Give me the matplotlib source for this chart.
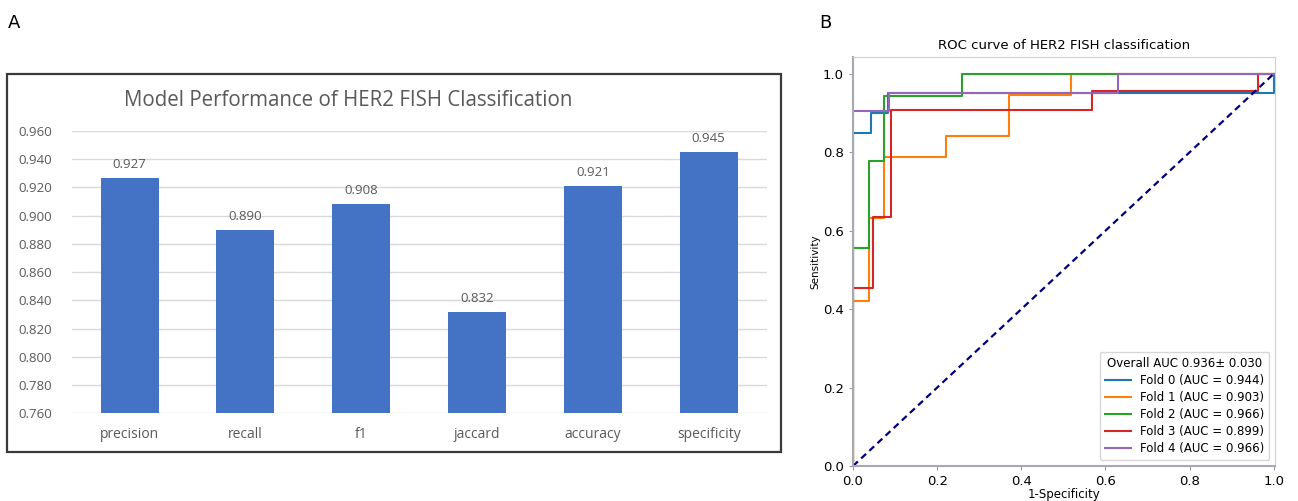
import matplotlib
matplotlib.use("Agg")
import matplotlib.pyplot as plt
from matplotlib.patches import Rectangle

# ---- Panel A data ----
metrics = ["precision", "recall", "f1", "jaccard", "accuracy", "specificity"]
scores = [0.927, 0.890, 0.908, 0.832, 0.921, 0.945]
ytick_vals = [0.760, 0.780, 0.800, 0.820, 0.840, 0.860, 0.880, 0.900, 0.920, 0.940, 0.960]

# ---- Panel B data (ROC curves per fold) ----
fold0_fpr = [0, 0, 0.042, 0.042, 0.083, 0.083, 1.0, 1.0]
fold0_tpr = [0, 0.85, 0.85, 0.90, 0.90, 0.95, 0.95, 1.0]
fold1_fpr = [0, 0, 0.037, 0.037, 0.074, 0.074, 0.222, 0.222, 0.370, 0.370, 0.519, 0.519, 1.0]
fold1_tpr = [0, 0.421, 0.421, 0.632, 0.632, 0.789, 0.789, 0.842, 0.842, 0.947, 0.947, 1.0, 1.0]
fold2_fpr = [0, 0, 0.037, 0.037, 0.074, 0.074, 0.259, 0.259, 1.0]
fold2_tpr = [0, 0.556, 0.556, 0.778, 0.778, 0.944, 0.944, 1.0, 1.0]
fold3_fpr = [0, 0, 0.047, 0.047, 0.090, 0.090, 0.569, 0.569, 0.962, 0.962, 1.0]
fold3_tpr = [0, 0.455, 0.455, 0.636, 0.636, 0.909, 0.909, 0.955, 0.955, 1.0, 1.0]
fold4_fpr = [0, 0, 0.086, 0.086, 0.630, 0.630, 1.0]
fold4_tpr = [0, 0.905, 0.905, 0.952, 0.952, 1.0, 1.0]
fold_aucs = [0.944, 0.903, 0.966, 0.899, 0.966]
overall_auc = "Overall AUC 0.936\u00b1 0.030"

fig = plt.figure(figsize=(12.98, 5.01), dpi=100)

# ---------- Panel A ----------
gray_txt = "#595959"
fig.patches.append(Rectangle((0.0054, 0.0978), 0.5963, 0.7545, transform=fig.transFigure,
                             fill=False, edgecolor="#3a3a3a", linewidth=1.6, zorder=0))
axA = fig.add_axes([0.0552, 0.175, 0.5354, 0.5635])
x = list(range(len(metrics)))
axA.bar(x, scores, width=0.5, color="#4472C4", zorder=3)
axA.set_ylim(0.76, 0.96)
axA.set_xlim(-0.5, len(metrics) - 0.5)
axA.set_yticks(ytick_vals)
axA.set_yticklabels([f"{v:.3f}" for v in ytick_vals], fontfamily="Open Sans", fontsize=9.5, color=gray_txt)
axA.set_xticks(x)
axA.set_xticklabels(metrics, fontfamily="Open Sans", fontsize=10, color=gray_txt)
axA.tick_params(axis="both", length=0)
axA.tick_params(axis="y", pad=14)
axA.tick_params(axis="x", pad=10)
axA.grid(axis="y", color="#d9d9d9", linewidth=1, zorder=0)
for s in axA.spines.values():
    s.set_visible(False)
for xi, v in zip(x, scores):
    axA.annotate(f"{v:.3f}", (xi, v), xytext=(0, 5), textcoords="offset points",
                 ha="center", va="bottom", fontfamily="Open Sans", fontsize=9.5, color=gray_txt)
fig.text(0.268, 0.80, "Model Performance of HER2 FISH Classification", ha="center", va="center",
         fontfamily="Open Sans", fontsize=14.8, color=gray_txt)

fig.text(0.006, 0.955, "A", fontsize=13, ha="left", va="center")
fig.text(0.631, 0.955, "B", fontsize=13, ha="left", va="center")

# ---------- Panel B ----------
axB = fig.add_axes([0.6572, 0.0699, 0.3251, 0.8164])
fprs = [fold0_fpr, fold1_fpr, fold2_fpr, fold3_fpr, fold4_fpr]
tprs = [fold0_tpr, fold1_tpr, fold2_tpr, fold3_tpr, fold4_tpr]
colors = ["#1f77b4", "#ff7f0e", "#2ca02c", "#d62728", "#9467bd"]
for i, (f, t, a, c) in enumerate(zip(fprs, tprs, fold_aucs, colors)):
    axB.plot(f, t, color=c, lw=1.5, label=f"Fold {i} (AUC = {a:.3f})")
axB.plot([0, 1], [0, 1], color="navy", lw=1.6, linestyle="--", dashes=(3, 2))
axB.set_xlim(0, 1.003)
axB.set_ylim(0, 1.043)
axB.set_xticks([0, 0.2, 0.4, 0.6, 0.8, 1.0])
axB.set_yticks([0, 0.2, 0.4, 0.6, 0.8, 1.0])
axB.tick_params(labelsize=9.5, length=3, color="#999999")
axB.set_title("ROC curve of HER2 FISH classification", fontsize=9.5, pad=6)
axB.set_xlabel("1-Specificity", fontsize=8.5, labelpad=0)
axB.set_ylabel("Sensitivity", fontsize=7.5, labelpad=2)
axB.spines["left"].set_color("#a8a8b0")
axB.spines["bottom"].set_color("#a8a8b0")
axB.spines["left"].set_linewidth(1.5)
axB.spines["bottom"].set_linewidth(1.5)
axB.spines["top"].set_color("#d0d0d0")
axB.spines["right"].set_color("#d0d0d0")
leg = axB.legend(loc="lower right", title=overall_auc, fontsize=8.5, title_fontsize=8.5,
                 frameon=True, fancybox=True, handlelength=2.2, labelspacing=0.35,
                 borderpad=0.4)

fig.savefig("out.png", dpi=100)
